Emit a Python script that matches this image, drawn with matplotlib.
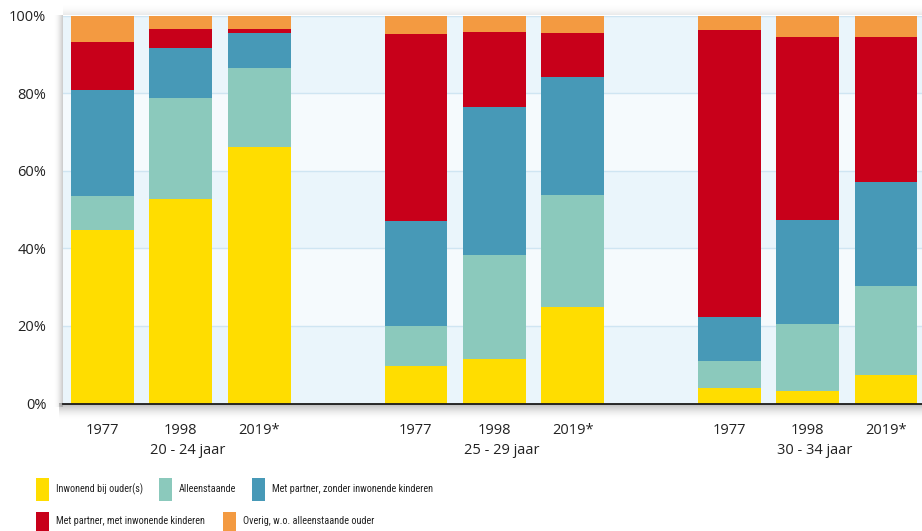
import numpy as np
import matplotlib
matplotlib.use('Agg')
import matplotlib.pyplot as plt
from matplotlib.patches import Rectangle

# ---- data ----
years = ['1977', '1998', '2019*', '1977', '1998', '2019*', '1977', '1998', '2019*']
groups = ['20 - 24 jaar', '25 - 29 jaar', '30 - 34 jaar']
series_names = ['Inwonend bij ouder(s)', 'Alleenstaande',
                'Met partner, zonder inwonende kinderen',
                'Met partner, met inwonende kinderen',
                'Overig, w.o. alleenstaande ouder']
inwonend = [44.7, 52.7, 66.1, 9.7, 11.5, 24.9, 4.0, 3.2, 7.3]
alleen = [8.8, 26.0, 20.4, 10.3, 26.8, 28.8, 7.0, 17.3, 23.0]
zonder = [27.3, 12.9, 9.0, 27.0, 38.1, 30.4, 11.3, 26.8, 26.8]
met = [12.4, 4.9, 1.0, 48.2, 19.3, 11.4, 74.0, 47.2, 37.4]
overig = [6.8, 3.5, 3.5, 4.8, 4.3, 4.5, 3.7, 5.5, 5.5]
yticks = [0, 20, 40, 60, 80, 100]

colors = ['#FFDD00', '#8BC9BC', '#4799B7', '#C8001A', '#F39A41']
values = [inwonend, alleen, zonder, met, overig]

W, H = 922, 531
fig = plt.figure(figsize=(W / 100, H / 100), dpi=100)
fig.patch.set_facecolor('white')

FONT = ['Open Sans', 'DejaVu Sans']
LEGFONT = ['Open Sans Condensed Light', 'Roboto Condensed', 'Liberation Sans Narrow',
           'Roboto', 'Liberation Sans', 'DejaVu Sans']
TXT = '#222222'

# plot area in pixels
L, R, T, B = 63, 922, 15.5, 403.5

def fx(x):
    return x / W

def fy(y):
    return 1 - y / H

# background axes for shadows (pixel coordinates)
bg = fig.add_axes([0, 0, 1, 1], zorder=0)
bg.set_xlim(0, W)
bg.set_ylim(H, 0)
bg.axis('off')

# bottom shadow
nb = 20
img = np.zeros((nb, 1, 4))
img[..., :3] = 0.35
img[:, 0, 3] = np.linspace(1, 0, nb) ** 2 * 0.45
bg.imshow(img, extent=(L - 4, R, B + 18, B), aspect='auto', interpolation='bilinear')
# left shadow
nl = 12
img = np.zeros((1, nl, 4))
img[..., :3] = 0.35
img[0, :, 3] = np.linspace(0, 1, nl) ** 2 * 0.30
bg.imshow(img, extent=(L - 10, L, B + 4, T), aspect='auto', interpolation='bilinear')
# top shadow
nt = 12
img = np.zeros((nt, 1, 4))
img[..., :3] = 0.35
img[:, 0, 3] = np.linspace(0, 1, nt) ** 2 * 0.12
bg.imshow(img, extent=(L, R, T, T - 12), aspect='auto', interpolation='bilinear')

# main axes
ax = fig.add_axes([fx(L), fy(B), (R - L) / W, (B - T) / H], zorder=2)
ax.set_facecolor('#EAF5FB')
x = np.array([0, 1, 2, 4, 5, 6, 8, 9, 10], dtype=float)
ax.set_xlim(-0.504, 10.46)
ax.set_ylim(0, 100)

# alternating bands and grid
for lo, hi in [(20, 40), (60, 80)]:
    ax.axhspan(lo, hi, color='#F5FAFD', zorder=0, lw=0)
for g in [20, 40, 60, 80, 100]:
    ax.axhline(g, color='#CFE5F2', lw=1.0, zorder=0.5)

bottom = np.zeros(len(x))
for vals, c, name in zip(values, colors, series_names):
    ax.bar(x, vals, width=0.80, bottom=bottom, color=c, label=name,
           zorder=2, linewidth=0)
    bottom += np.array(vals)

for s in ['top', 'right', 'left']:
    ax.spines[s].set_visible(False)
ax.spines['bottom'].set_color('#1a1a1a')
ax.spines['bottom'].set_linewidth(1.3)
ax.spines['bottom'].set_zorder(3)

ax.set_yticks(yticks)
ax.set_yticklabels([f'{v}%' for v in yticks], fontsize=10.5, family=FONT, color=TXT)
ax.tick_params(axis='y', length=0, pad=12)
ax.set_xticks(x)
ax.set_xticklabels(years, fontsize=10.5, family=FONT, color=TXT)
ax.tick_params(axis='x', length=0, pad=14)

# group labels
for i, gname in enumerate(groups):
    xc = x[3 * i + 1] + 0.09
    ax.text(xc, -(451 - B) / (B - T), gname, transform=ax.get_xaxis_transform(),
            ha='center', va='center', fontsize=10.5, family=FONT, color=TXT)

# legend (manual); target width in reference, room before the next swatch
legend_items = [
    (36, 478, 'Inwonend bij ouder(s)', colors[0], 56, 489.5, 86, 98),
    (159, 478, 'Alleenstaande', colors[1], 179, 489.5, 55, 68),
    (252, 478, 'Met partner, zonder inwonende kinderen', colors[2], 272, 489.5, 161, None),
    (36, 512, 'Met partner, met inwonende kinderen', colors[3], 56, 521.5, 149, 160),
    (223, 512, 'Overig, w.o. alleenstaande ouder', colors[4], 243, 521.5, 127, None),
]
legend_texts = []
for px, py, label, c, tx, ty, tw, room in legend_items:
    fig.add_artist(Rectangle((fx(px), fy(py + 23)), 12.5 / W, 23 / H,
                             transform=fig.transFigure, color=c, lw=0))
    t = fig.text(fx(tx), fy(ty), label, fontsize=10, family=LEGFONT,
                 fontweight='normal', color=TXT, ha='left', va='center')
    legend_texts.append(t)

# size legend font to match reference text widths, never running into a swatch
fig.canvas.draw()
r = fig.canvas.get_renderer()
widths = [t.get_window_extent(renderer=r).width for t in legend_texts]
target_ratio = sum(it[6] for it in legend_items) / sum(widths)
room_ratio = min(it[7] / w for it, w in zip(legend_items, widths) if it[7] is not None)
scale = min(target_ratio, room_ratio, 1.1)
for t in legend_texts:
    t.set_fontsize(10 * scale)

fig.savefig('out.png', dpi=100)
